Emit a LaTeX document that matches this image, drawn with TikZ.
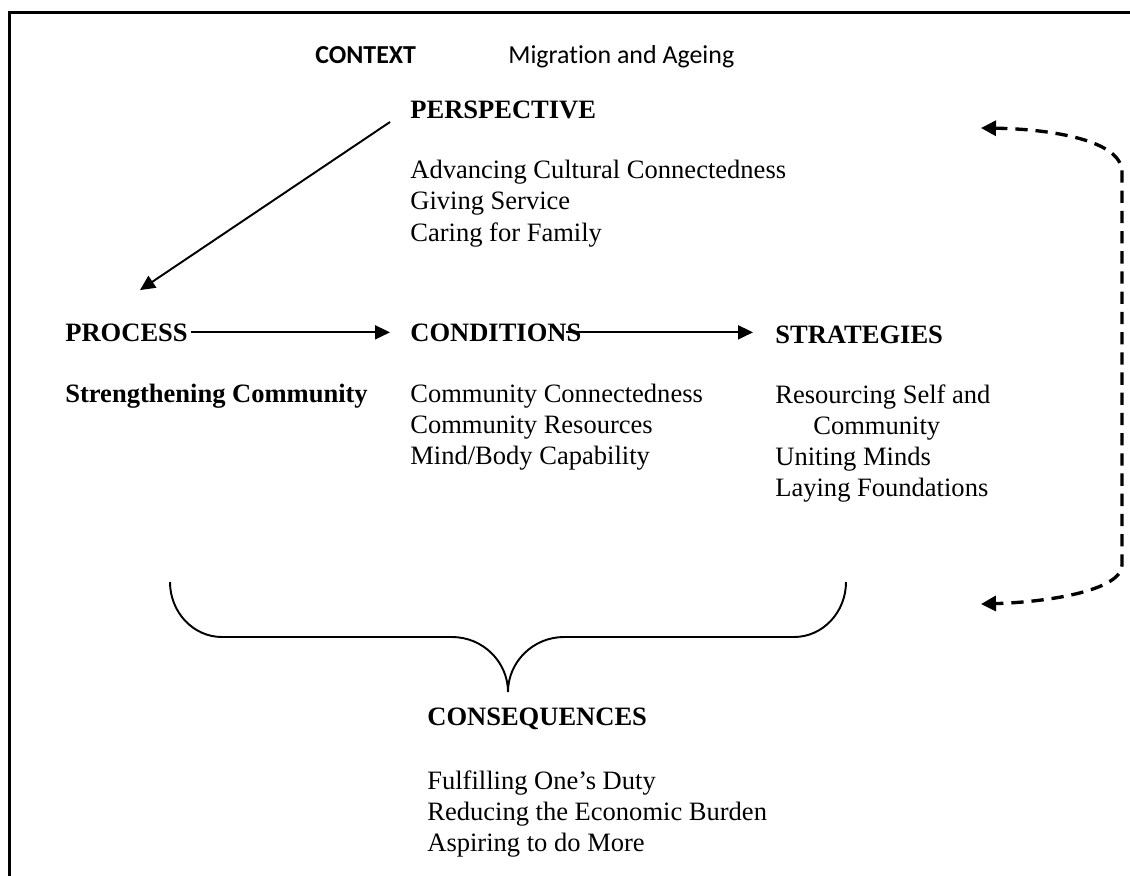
\documentclass[tikz,border=0pt]{standalone}
\usepackage{fontspec}
\setmainfont{Liberation Serif}
\newfontfamily\calfont[Ligatures=NoCommon]{Carlito}
\usetikzlibrary{arrows.meta}
\tikzset{
    txtnode/.style = {anchor=base west, inner sep=0pt, font=\fontsize{15.1}{18}\selectfont},
    headnode/.style = {anchor=base west, inner sep=0pt, font=\fontsize{15.1}{18}\selectfont\bfseries},
    ctxnode/.style = {anchor=base west, inner sep=0pt, font=\calfont\fontsize{14.75}{18}\selectfont},
    ctxhead/.style = {anchor=base west, inner sep=0pt, font=\calfont\fontsize{14.75}{18}\selectfont\bfseries},
    edgen/.style = {-{Triangle[length=0.3cm,width=0.28cm]}, line width=1.1pt, black},
    edgeb/.style = {-, line width=1.1pt, black}, % brace
    edgegd/.style = {{Triangle[length=0.3cm,width=0.3cm]}-{Triangle[length=0.3cm,width=0.3cm]}, line width=1.9pt, black, dash pattern=on 7pt off 4.5pt}, % feedback
    framen/.style = {-, line width=1.4pt, black}
}
\begin{document}
\begin{tikzpicture}[x=0.02cm,y=-0.02cm]
\useasboundingbox (0,0) rectangle (1130,876);
\draw[framen] (9.5,876) -- (9.5,12.5) -- (1130,12.5);
%
\node[ctxhead] at (315,63) (ctx) {CONTEXT};
\node[ctxnode] at (508,63) (mig) {Migration and Ageing};
%
\node[headnode] at (410,118) (persp) {PERSPECTIVE};
\node[txtnode] at (410,178) (per1) {Advancing Cultural Connectedness};
\node[txtnode] at (410,209.5) (per2) {Giving Service};
\node[txtnode] at (410,241) (per3) {Caring for Family};
%
\node[headnode] at (65,341) (proc) {PROCESS};
\node[headnode] at (65,402) (proc1) {Strengthening Community};
%
\node[headnode] at (410,341) (cond) {CONDITIONS};
\node[txtnode] at (410,402) (cond1) {Community Connectedness};
\node[txtnode] at (410,433) (cond2) {Community Resources};
\node[txtnode] at (410,464) (cond3) {Mind/Body Capability};
%
\node[headnode] at (775,343) (strat) {STRATEGIES};
\node[txtnode] at (775,403) (strat1) {Resourcing Self and};
\node[txtnode] at (813,434) (strat2) {Community};
\node[txtnode] at (775,465) (strat3) {Uniting Minds};
\node[txtnode] at (775,496) (strat4) {Laying Foundations};
%
\node[headnode] at (427,725) (cons) {CONSEQUENCES};
\node[txtnode] at (427,789) (cons1) {Fulfilling One’s Duty};
\node[txtnode] at (427,820) (cons2) {Reducing the Economic Burden};
\node[txtnode] at (427,851) (cons3) {Aspiring to do More};
%
\draw[edgen] ([shift={(-0.4cm,-0.08cm)}]persp.base west) -- ([shift={(1.5cm,0.66cm)}]proc.north west);
\draw[edgen] ([xshift=0.06cm]proc.east) -- ([xshift=-0.4cm]cond.west |- proc.east);
\draw[edgen] ([xshift=-0.32cm]cond.east) -- ([xshift=-0.44cm]strat.west |- cond.east);
%
\draw[edgeb] (170,582) .. controls (170,612) and (193,637) .. (222,637) -- (452,637)
  .. controls (483,637) and (508,662) .. (508,692)
  .. controls (508,662) and (533,637) .. (564,637) -- (794,637)
  .. controls (823,637) and (846,612) .. (846,582);
%
\draw[edgegd] (981,128) .. controls (1050,129) and (1122,140) .. (1122,172) -- (1122,565)
  .. controls (1122,590) and (1050,602) .. (981,604);
\end{tikzpicture}
\end{document}
